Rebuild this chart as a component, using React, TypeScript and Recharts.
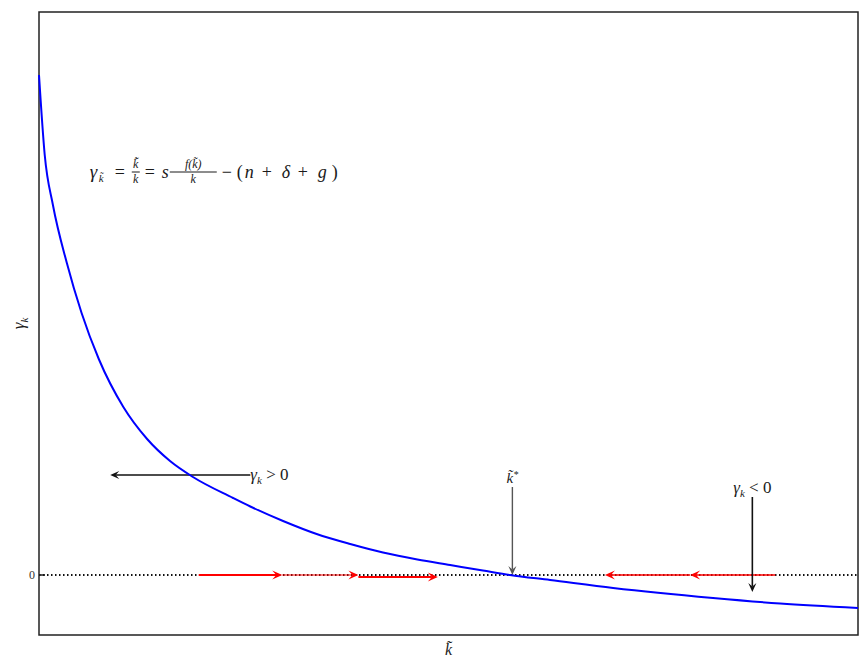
import React from 'react';
import {
  LineChart,
  Line,
  XAxis,
  YAxis,
  ReferenceLine,
  ReferenceArea,
  ReferenceDot,
} from 'recharts';

// k-tilde values along the horizontal axis and the growth rate gamma_k
const kValues = [0, 0.07, 0.17, 0.34, 0.52, 0.73, 1.03, 1.32, 1.6, 1.88, 2.37, 2.58, 2.98, 3.39, 3.8, 4.2, 4.62, 5.02, 5.42, 5.75, 6.24, 7.01, 8.23, 9.05, 10];
const gammaValues = [5.0, 4.2, 3.7, 3.12, 2.62, 2.16, 1.68, 1.36, 1.14, 0.98, 0.77, 0.685, 0.54, 0.41, 0.31, 0.225, 0.155, 0.1, 0.045, 0, -0.05, -0.13, -0.23, -0.285, -0.33];

const xDomain = [0, 10];
const yDomain = [-0.6, 5.63];
const yTicks = [0];

// red phase arrows on the zero line: [from, to]
const rightArrows = [[1.95, 2.97], [2.97, 3.9], [3.9, 4.87]];
const leftArrows = [[8.99, 7.95], [7.95, 6.91]];

// black pointer arrows: [x1, y1, x2, y2]
const gammaPosArrow = [2.58, 1.0, 0.87, 1.0];
const kStarArrow = [5.78, 0.88, 5.78, 0.0];
const gammaNegArrow = [8.71, 0.78, 8.71, -0.17];

// text anchors
const equationAt = { x: 0.62, y: 4.03 };

const FONT = '"Liberation Serif", "DejaVu Serif", serif';
const INK = '#1a1a1a';

const data = kValues.map((k, i) => ({ k, gamma: gammaValues[i] }));

const arrowShape = (color: string, width: number, head: number) => (p: any) => {
  const { x1, y1, x2, y2 } = p;
  const a = Math.atan2(y2 - y1, x2 - x1);
  const c = Math.cos(a);
  const s = Math.sin(a);
  const bx = x2 - head * c;
  const by = y2 - head * s;
  const nx = x2 - head * 0.6 * c;
  const ny = y2 - head * 0.6 * s;
  const w = head * 0.45;
  const pts = [
    [x2, y2],
    [bx - w * s, by + w * c],
    [nx, ny],
    [bx + w * s, by - w * c],
  ]
    .map((q) => q.join(','))
    .join(' ');
  return (
    <g>
      <line x1={x1} y1={y1} x2={nx} y2={ny} stroke={color} strokeWidth={width} />
      <polygon points={pts} fill={color} />
    </g>
  );
};

const it = { style: { fontFamily: FONT, fontStyle: 'italic' as const }, fill: INK };
const up = { style: { fontFamily: FONT, fontStyle: 'normal' as const }, fill: INK };

function Equation({ cx, cy }: any) {
  return (
    <g transform={`translate(${cx},${cy})`}>
      <text x={0} y={6} fontSize={19} {...it}>γ</text>
      <text x={9} y={10} fontSize={11} {...it}>k̃</text>
      <text x={25} y={6} fontSize={18} {...up}>=</text>
      <text x={46} y={-4} fontSize={12} textAnchor="middle" {...it}>k̃̇</text>
      <line x1={42} x2={50} y1={0} y2={0} stroke={INK} strokeWidth={1} />
      <text x={46} y={11} fontSize={12} textAnchor="middle" {...it}>k</text>
      <text x={55} y={6} fontSize={18} {...up}>=</text>
      <text x={72} y={6} fontSize={18} {...it}>s</text>
      <text x={103.5} y={-4} fontSize={12} textAnchor="middle" {...it}>f(k̃)</text>
      <line x1={80} x2={127} y1={0} y2={0} stroke={INK} strokeWidth={1} />
      <text x={103.5} y={11} fontSize={12} textAnchor="middle" {...it}>k</text>
      <text x={132} y={6} fontSize={18} {...up}>−</text>
      <text x={147} y={6} fontSize={18} {...up}>(</text>
      <text x={155} y={6} fontSize={18} {...it}>n</text>
      <text x={172} y={6} fontSize={18} {...up}>+</text>
      <text x={192} y={6} fontSize={18} {...it}>δ</text>
      <text x={208} y={6} fontSize={18} {...up}>+</text>
      <text x={228} y={6} fontSize={18} {...it}>g</text>
      <text x={242} y={6} fontSize={18} {...up}>)</text>
    </g>
  );
}

function GammaPosLabel({ cx, cy }: any) {
  return (
    <text x={cx} y={cy + 5} fontSize={17} {...up}>
      <tspan {...it}>γ</tspan>
      <tspan {...it} fontSize={11} dy={4}>k</tspan>
      <tspan dy={-4}> &gt; 0</tspan>
    </text>
  );
}

function GammaNegLabel({ cx, cy }: any) {
  return (
    <text x={cx} y={cy - 4} fontSize={17} textAnchor="middle" {...up}>
      <tspan {...it}>γ</tspan>
      <tspan {...it} fontSize={11} dy={4}>k</tspan>
      <tspan dy={-4}> &lt; 0</tspan>
    </text>
  );
}

function KStarLabel({ cx, cy }: any) {
  return (
    <text x={cx} y={cy - 4} fontSize={15} textAnchor="middle" {...it}>
      k̃<tspan fontSize={10} dy={-5}>*</tspan>
    </text>
  );
}

const yLabel = (props: any) => {
  const { x, y, height } = props.viewBox;
  const cx = x + 24;
  const cy = y + height / 2;
  return (
    <text transform={`translate(${cx},${cy}) rotate(-90)`} textAnchor="middle" fontSize={17} {...up}>
      <tspan {...it}>γ</tspan>
      <tspan {...it} fontSize={11} dy={4}>k</tspan>
    </text>
  );
};

const xLabel = (props: any) => {
  const { x, y, width } = props.viewBox;
  return (
    <text x={x + width / 2} y={y + 20} textAnchor="middle" fontSize={16} {...it}>
      k̃
    </text>
  );
};

export default function App() {
  return (
    <div style={{ position: 'absolute', left: 0, top: 0, background: '#fff', fontFamily: FONT }}>
      <LineChart width={866} height={661} data={data} margin={{ top: 12, right: 8, left: 0, bottom: 0 }}>
        <XAxis
          dataKey="k"
          type="number"
          domain={xDomain}
          tick={false}
          tickLine={false}
          axisLine={false}
          height={26}
          label={{ content: xLabel }}
        />
        <YAxis
          type="number"
          domain={yDomain}
          ticks={yTicks}
          width={39}
          axisLine={false}
          tickSize={-6}
          tickMargin={10}
          tickLine={{ stroke: INK, strokeWidth: 1.5 }}
          tick={{ fontSize: 12, fill: '#333', style: { fontFamily: FONT } }}
          label={{ content: yLabel }}
        />
        <ReferenceArea
          x1={xDomain[0]}
          x2={xDomain[1]}
          y1={yDomain[0]}
          y2={yDomain[1]}
          fill="none"
          stroke="#222"
          strokeWidth={1.5}
        />
        <ReferenceLine y={0} stroke="#111" strokeWidth={2} strokeDasharray="1.5 2.5" />
        {rightArrows.map(([a, b], i) => (
          <ReferenceLine
            key={`r${i}`}
            segment={[{ x: a, y: i === 2 ? -0.02 : 0 }, { x: b, y: i === 2 ? -0.02 : 0 }]}
            shape={arrowShape('#ff0000', i === 1 ? 1.2 : 1.8, 10)}
          />
        ))}
        {leftArrows.map(([a, b], i) => (
          <ReferenceLine
            key={`l${i}`}
            segment={[{ x: a, y: 0 }, { x: b, y: 0 }]}
            shape={arrowShape('#ff0000', 1.5, 10)}
          />
        ))}
        <ReferenceLine
          segment={[{ x: gammaPosArrow[0], y: gammaPosArrow[1] }, { x: gammaPosArrow[2], y: gammaPosArrow[3] }]}
          shape={arrowShape('#111', 1.6, 9)}
        />
        <ReferenceLine
          segment={[{ x: kStarArrow[0], y: kStarArrow[1] }, { x: kStarArrow[2], y: kStarArrow[3] }]}
          shape={arrowShape('#555', 1.4, 9)}
        />
        <ReferenceLine
          segment={[{ x: gammaNegArrow[0], y: gammaNegArrow[1] }, { x: gammaNegArrow[2], y: gammaNegArrow[3] }]}
          shape={arrowShape('#111', 1.6, 9)}
        />
        <Line
          type="monotone"
          dataKey="gamma"
          stroke="#0000ff"
          strokeWidth={2}
          dot={false}
          isAnimationActive={false}
        />
        <ReferenceDot x={equationAt.x} y={equationAt.y} r={0} shape={(p: any) => <Equation {...p} />} />
        <ReferenceDot x={gammaPosArrow[0]} y={gammaPosArrow[1]} r={0} shape={(p: any) => <GammaPosLabel {...p} />} />
        <ReferenceDot x={kStarArrow[0]} y={kStarArrow[1]} r={0} shape={(p: any) => <KStarLabel {...p} />} />
        <ReferenceDot x={gammaNegArrow[0]} y={gammaNegArrow[1]} r={0} shape={(p: any) => <GammaNegLabel {...p} />} />
      </LineChart>
    </div>
  );
}
